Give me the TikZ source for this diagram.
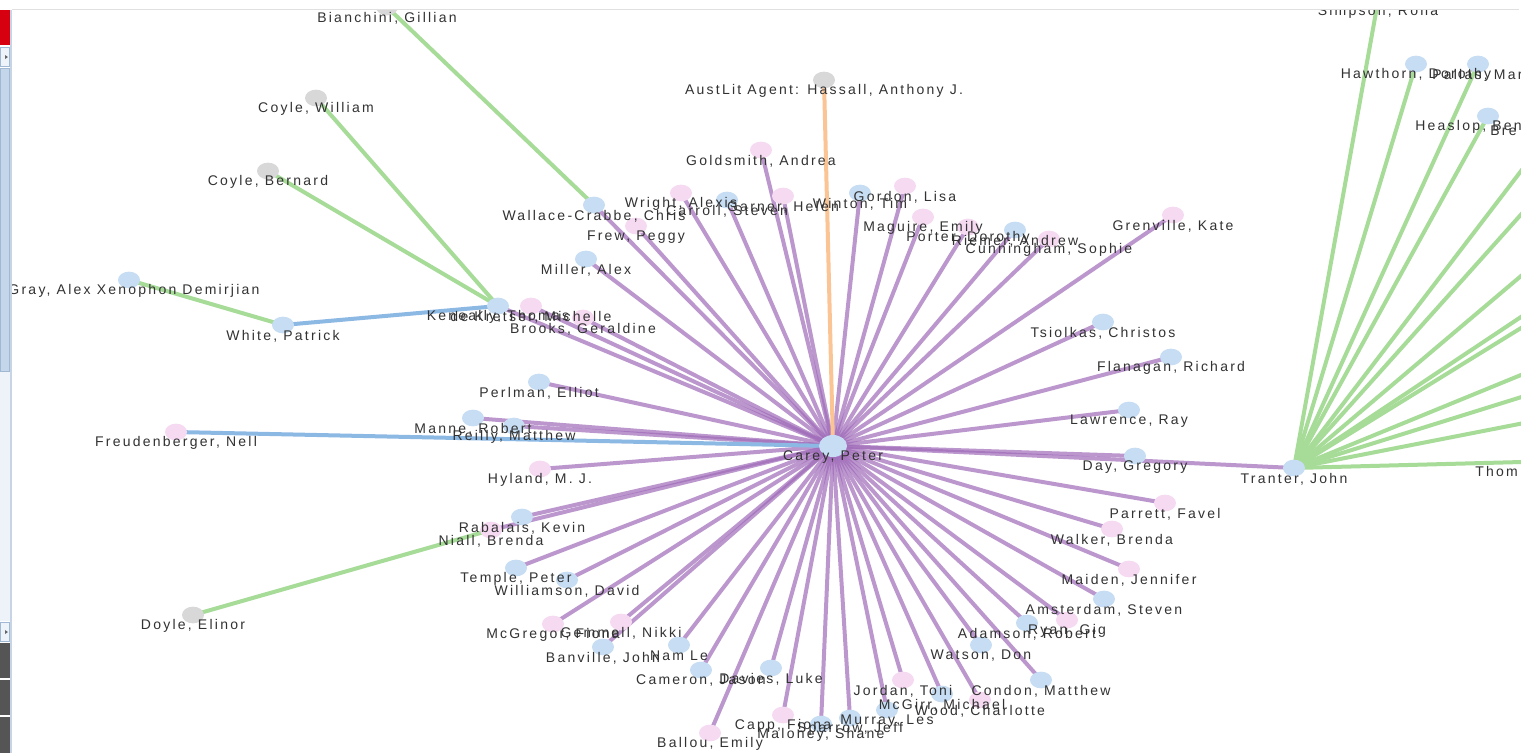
\documentclass[tikz,border=0pt]{standalone}
\usepackage{fontspec}
\newfontfamily\lblfam[LetterSpace=16]{Liberation Sans}
\usetikzlibrary{shapes.geometric}
\pgfdeclarelayer{bg}
\pgfdeclarelayer{edges}
\pgfdeclarelayer{circles}
\pgfsetlayers{bg,edges,circles,main}
\definecolor{nblue}{RGB}{198,221,243}
\definecolor{npink}{RGB}{246,218,242}
\definecolor{ngrey}{RGB}{216,216,216}
\definecolor{epurple}{RGB}{160,108,186}
\definecolor{egreen}{RGB}{166,219,152}
\definecolor{eblue}{RGB}{140,184,228}
\definecolor{eorange}{RGB}{251,196,148}
\definecolor{ltext}{RGB}{50,50,50}
\definecolor{sbred}{RGB}{214,0,16}
\definecolor{sbthumb}{RGB}{196,214,234}
\definecolor{sbtrack}{RGB}{238,243,250}
\definecolor{sbline}{RGB}{160,184,212}
\definecolor{sbdark}{RGB}{85,85,85}
\newcommand\PN[5]{%
  \begin{pgfonlayer}{circles}\node[#4] (#1) at (#2,#3) {};\end{pgfonlayer}%
  \node[lbl] (#1-l) at (#2,#3+11) {#5};}
\tikzset{
  nd/.style={ellipse, minimum width=16.5pt, minimum height=12.5pt, inner sep=0pt},
  nb/.style={nd, fill=nblue},
  np/.style={nd, fill=npink},
  ng/.style={nd, fill=ngrey},
  nc/.style={ellipse, minimum width=21pt, minimum height=16.5pt, inner sep=0pt, fill=nblue},
  lbl/.style={font=\lblfam\fontsize{10.5pt}{12pt}\selectfont, text=ltext, inner sep=0pt},
  pe/.style={line width=3pt, draw=epurple, draw opacity=0.7},
  ge/.style={line width=3pt, draw=egreen},
  be/.style={line width=3pt, draw=eblue},
  oe/.style={line width=3pt, draw=eorange},
}
\begin{document}
\begin{tikzpicture}[x=0.75pt,y=-0.75pt]
\useasboundingbox (0,0) rectangle (1528,753);
\begin{pgfonlayer}{bg}
\fill[white] (0,0) rectangle (1528,753);
\end{pgfonlayer}
% ---- nodes ----
\PN{carey}{833}{446}{nc}{Carey, Peter}
\PN{bianchini}{387}{7}{ng}{Bianchini, Gillian}
\PN{coylew}{316}{98}{ng}{Coyle, William}
\PN{coyleb}{268}{171}{ng}{Coyle, Bernard}
\PN{austlit}{824}{80}{ng}{AustLit Agent: Hassall, Anthony J.}
\PN{doyle}{193}{615}{ng}{Doyle, Elinor}
\PN{wallace}{594}{205}{nb}{Wallace-Crabbe, Chris}
\PN{miller}{586}{259}{nb}{Miller, Alex}
\PN{carroll}{727}{200}{nb}{Carroll, Steven}
\PN{winton}{860}{193}{nb}{Winton, Tim}
\PN{riemer}{1015}{230}{nb}{Riemer, Andrew}
\PN{tsiolkas}{1103}{322}{nb}{Tsiolkas, Christos}
\PN{flanagan}{1171}{357}{nb}{Flanagan, Richard}
\PN{lawrence}{1129}{410}{nb}{Lawrence, Ray}
\PN{day}{1135}{456}{nb}{Day, Gregory}
\PN{tranter}{1294}{468}{nb}{Tranter, John}
\PN{amsterdam}{1104}{599}{nb}{Amsterdam, Steven}
\PN{adamson}{1027}{623}{nb}{Adamson, Robert}
\PN{watson}{981}{645}{nb}{Watson, Don}
\PN{condon}{1041}{680}{nb}{Condon, Matthew}
\PN{mcgirr}{942}{694}{nb}{McGirr, Michael}
\PN{murray}{887}{710}{nb}{Murray, Les}
\PN{sparrow}{850}{718}{nb}{Sparrow, Jeff}
\PN{maloney}{821}{724}{nb}{Maloney, Shane}
\PN{davies}{771}{668}{nb}{Davies, Luke}
\PN{cameron}{701}{670}{nb}{Cameron, Jason}
\PN{namle}{679}{645}{nb}{Nam Le}
\PN{banville}{603}{647}{nb}{Banville, John}
\PN{williamson}{567}{580}{nb}{Williamson, David}
\PN{temple}{516}{568}{nb}{Temple, Peter}
\PN{rabalais}{522}{517}{nb}{Rabalais, Kevin}
\PN{reilly}{514}{426}{nb}{Reilly, Matthew}
\PN{manne}{473}{418}{nb}{Manne, Robert}
\PN{perlman}{539}{382}{nb}{Perlman, Elliot}
\PN{keneally}{498}{306}{nb}{Keneally, Thomas}
\PN{white}{283}{325}{nb}{White, Patrick}
\begin{pgfonlayer}{circles}\node[nb] (gray) at (129,280) {};\end{pgfonlayer}
\node[lbl] (gray-l) at (134,291) {Gray, Alex Xenophon Demirjian};
\PN{frew}{636}{226}{np}{Frew, Peggy}
\PN{wright}{681}{193}{np}{Wright, Alexis}
\PN{goldsmith}{761}{150}{np}{Goldsmith, Andrea}
\PN{garner}{783}{196}{np}{Garner, Helen}
\PN{gordon}{905}{186}{np}{Gordon, Lisa}
\PN{maguire}{923}{217}{np}{Maguire, Emily}
\PN{porter}{968}{227}{np}{Porter, Dorothy}
\PN{cunningham}{1049}{239}{np}{Cunningham, Sophie}
\PN{grenville}{1173}{215}{np}{Grenville, Kate}
\PN{parrett}{1165}{503}{np}{Parrett, Favel}
\PN{walker}{1112}{529}{np}{Walker, Brenda}
\PN{maiden}{1129}{569}{np}{Maiden, Jennifer}
\PN{ryan}{1067}{620}{np}{Ryan, Gig}
\PN{wood}{980}{700}{np}{Wood, Charlotte}
\PN{jordan}{903}{680}{np}{Jordan, Toni}
\PN{capp}{783}{715}{np}{Capp, Fiona}
\PN{ballou}{710}{733}{np}{Ballou, Emily}
\PN{gemmell}{621}{622}{np}{Gemmell, Nikki}
\PN{mcgregor}{553}{624}{np}{McGregor, Fiona}
\PN{niall}{491}{530}{np}{Niall, Brenda}
\PN{hyland}{540}{469}{np}{Hyland, M. J.}
\PN{freud}{176}{432}{np}{Freudenberger, Nell}
\PN{brooks}{583}{318}{np}{Brooks, Geraldine}
\PN{dekretser}{531}{306}{np}{de Kretser, Michelle}
% right side (partly off the canvas)
\PN{simpson}{1378}{1}{nb}{Simpson, Rona}
\PN{hawthorn}{1416}{64}{nb}{Hawthorn, Dorothy}
\begin{pgfonlayer}{circles}
\node[nb] (pallas) at (1478,64) {};
\node[nb] (heaslop) at (1488,116) {};
\node[nb] (bre) at (1560,120) {};
\node[nb] (thom) at (1560,461) {};
\end{pgfonlayer}
\node[lbl, anchor=west] (pallas-l) at (1432,75) {Pallas, Mar};
\node[lbl, anchor=west] (heaslop-l) at (1415,127) {Heaslop, Ben};
\node[lbl, anchor=west] (bre-l) at (1490,131) {Bre};
\node[lbl, anchor=west] (thom-l) at (1475,471) {Thom};
\coordinate (t1) at (1560,171);
\coordinate (t2) at (1560,243);
\coordinate (t3) at (1560,291);
\coordinate (t4) at (1560,304);
\coordinate (t5) at (1560,359);
\coordinate (t6) at (1560,385);
\coordinate (t7) at (1560,416);
% ---- edges ----
\begin{pgfonlayer}{edges}
\foreach \t in {wallace,miller,frew,wright,carroll,goldsmith,garner,winton,gordon,maguire,porter,riemer,cunningham,grenville,tsiolkas,flanagan,lawrence,day,tranter,parrett,walker,maiden,amsterdam,ryan,adamson,watson,condon,wood,mcgirr,jordan,murray,sparrow,maloney,capp,ballou,davies,cameron,namle,banville,gemmell,mcgregor,williamson,temple,niall,rabalais,hyland,reilly,manne,perlman,brooks,dekretser,keneally}
  \draw[pe] (carey.center) -- (\t.center);
\draw[oe] (austlit.center) -- (carey.center);
\draw[be] (freud.center) -- (carey.center);
\draw[be] (white.center) -- (keneally.center);
\draw[ge] (bianchini.center) -- (wallace.center);
\draw[ge] (coylew.center) -- (keneally.center);
\draw[ge] (coyleb.center) -- (keneally.center);
\draw[ge] (gray.center) -- (white.center);
\draw[ge] (doyle.center) -- (niall.center);
\foreach \t in {simpson,hawthorn,pallas,heaslop,bre,t1,t2,t3,t4,t5,t6,t7,thom}
  \draw[ge] (tranter.center) -- (\t.center);
\end{pgfonlayer}
% ---- frame of the screenshot ----
\fill[white] (0,0) rectangle (1528,9);
\fill[white] (1521,9) rectangle (1528,753);
\draw[black!12, line width=1pt] (12,9.5) -- (1519,9.5);
\fill[white] (0,9) rectangle (11,753);
\fill[sbred] (0,10) rectangle (10,45);
\filldraw[fill=sbtrack, draw=sbline, line width=0.6pt] (0.5,47.5) rectangle (9.5,66.5);
\fill[black!60] (5,55) -- (8,57) -- (5,59) -- cycle;
\filldraw[fill=sbthumb, draw=sbline, line width=0.6pt] (0.5,68.5) rectangle (9.5,371.5);
\fill[sbtrack] (0,372) rectangle (10,621);
\filldraw[fill=sbtrack, draw=sbline, line width=0.6pt] (0.5,622.5) rectangle (9.5,641.5);
\fill[black!60] (5,630) -- (8,632) -- (5,634) -- cycle;
\fill[sbdark] (0,643) rectangle (10,678);
\fill[sbdark] (0,680) rectangle (10,715);
\fill[sbdark] (0,717) rectangle (10,753);
\draw[sbline!60, line width=0.8pt] (11,10) -- (11,753);
\end{tikzpicture}
\end{document}
